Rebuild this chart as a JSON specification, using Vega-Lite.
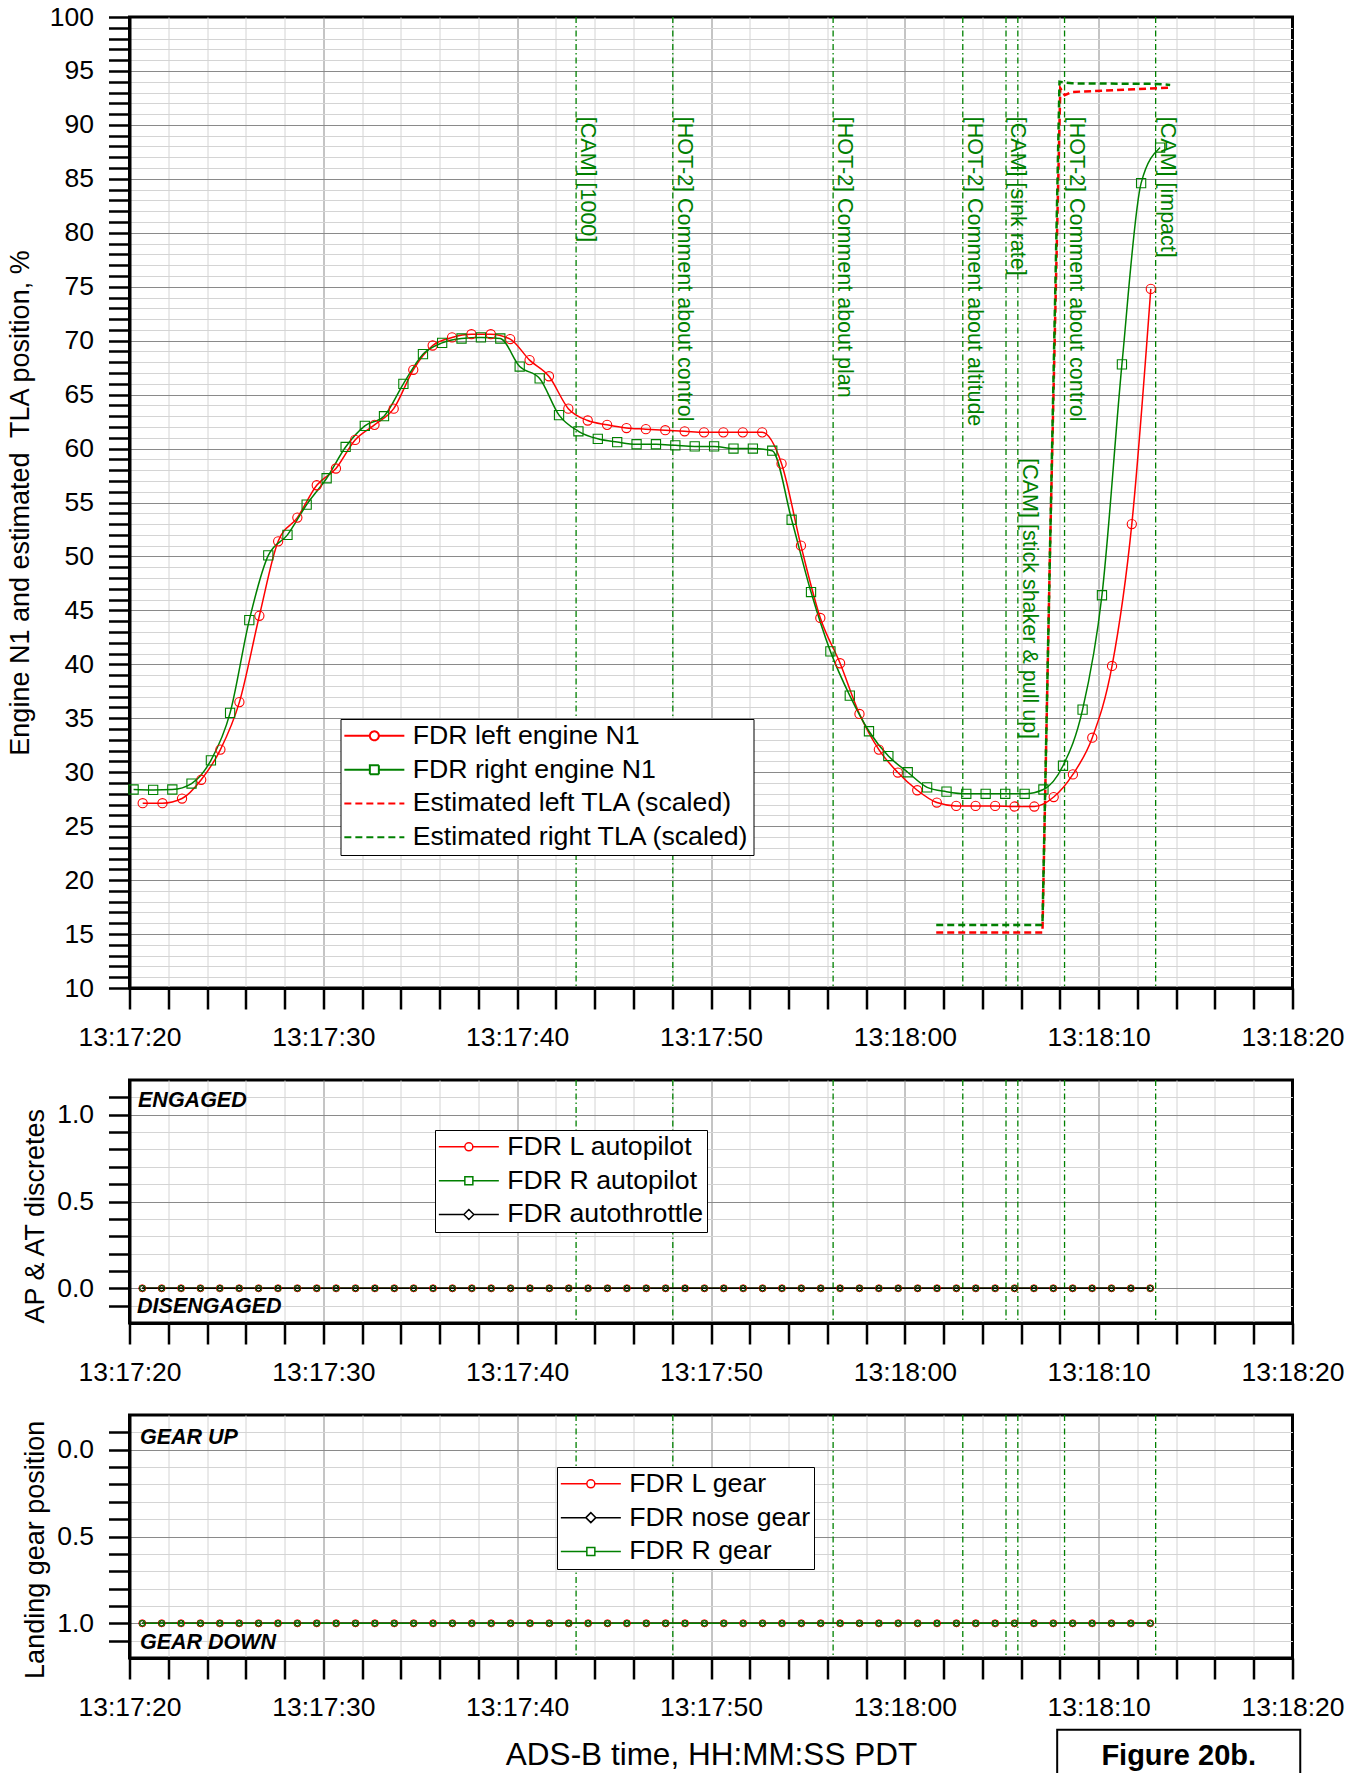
{
  "$schema": "https://vega.github.io/schema/vega-lite/v6.json",
  "autosize": {"type": "none"},
  "padding": {"left": 129.5, "top": 17, "right": 1228.5, "bottom": 1756},
  "background": "white",
  "spacing": 92,
  "bounds": "flush",
  "config": {
    "font": "Liberation Sans",
    "view": {"stroke": "black", "strokeWidth": 3},
    "axis": {
      "labelFont": "Liberation Sans", "labelFontSize": 26.5, "labelColor": "black",
      "titleFont": "Liberation Sans", "titleFontSize": 27, "titleFontWeight": "normal", "titleColor": "black",
      "domainColor": "black", "domainWidth": 3, "tickColor": "black", "tickWidth": 2.5, "tickSize": 21,
      "labelPadding": 15, "labelOverlap": false, "labelFlush": false, "labelBound": false, "grid": true, "gridWidth": 1
    },
    "legend": {"labelFont": "Liberation Sans", "labelFontSize": 26.7, "labelColor": "black", "labelLimit": 0}
  },
  "datasets": {
    "events": [
      {"t": 47863.04, "label": "[CAM] [1000]", "v": 90.75},
      {"t": 47868.03, "label": "[HOT-2] Comment about control", "v": 90.75},
      {"t": 47876.30, "label": "[HOT-2] Comment about plan", "v": 90.75},
      {"t": 47882.99, "label": "[HOT-2] Comment about altitude", "v": 90.75},
      {"t": 47885.22, "label": "[CAM] [sink rate]", "v": 90.75},
      {"t": 47885.83, "label": "[CAM] [stick shaker & pull up]", "v": 59.1},
      {"t": 47888.24, "label": "[HOT-2] Comment about control", "v": 90.75},
      {"t": 47892.94, "label": "[CAM] [impact]", "v": 90.75}
    ],
    "main": [
      {"t": 47840.68, "series": "FDR left engine N1", "v": 27.13},
      {"t": 47841.70, "series": "FDR left engine N1", "v": 27.13},
      {"t": 47842.71, "series": "FDR left engine N1", "v": 27.56},
      {"t": 47843.70, "series": "FDR left engine N1", "v": 29.3},
      {"t": 47844.69, "series": "FDR left engine N1", "v": 32.1},
      {"t": 47845.67, "series": "FDR left engine N1", "v": 36.5},
      {"t": 47846.70, "series": "FDR left engine N1", "v": 44.5},
      {"t": 47847.67, "series": "FDR left engine N1", "v": 51.4},
      {"t": 47848.66, "series": "FDR left engine N1", "v": 53.6},
      {"t": 47849.66, "series": "FDR left engine N1", "v": 56.6},
      {"t": 47850.65, "series": "FDR left engine N1", "v": 58.15},
      {"t": 47851.64, "series": "FDR left engine N1", "v": 60.8},
      {"t": 47852.64, "series": "FDR left engine N1", "v": 62.2},
      {"t": 47853.63, "series": "FDR left engine N1", "v": 63.7},
      {"t": 47854.64, "series": "FDR left engine N1", "v": 67.3},
      {"t": 47855.64, "series": "FDR left engine N1", "v": 69.55},
      {"t": 47856.64, "series": "FDR left engine N1", "v": 70.3},
      {"t": 47857.64, "series": "FDR left engine N1", "v": 70.6},
      {"t": 47858.64, "series": "FDR left engine N1", "v": 70.6},
      {"t": 47859.64, "series": "FDR left engine N1", "v": 70.15},
      {"t": 47860.64, "series": "FDR left engine N1", "v": 68.2},
      {"t": 47861.64, "series": "FDR left engine N1", "v": 66.7},
      {"t": 47862.64, "series": "FDR left engine N1", "v": 63.7},
      {"t": 47863.64, "series": "FDR left engine N1", "v": 62.6},
      {"t": 47864.64, "series": "FDR left engine N1", "v": 62.2},
      {"t": 47865.64, "series": "FDR left engine N1", "v": 61.9},
      {"t": 47866.64, "series": "FDR left engine N1", "v": 61.8},
      {"t": 47867.64, "series": "FDR left engine N1", "v": 61.7},
      {"t": 47868.64, "series": "FDR left engine N1", "v": 61.6},
      {"t": 47869.64, "series": "FDR left engine N1", "v": 61.5},
      {"t": 47870.64, "series": "FDR left engine N1", "v": 61.5},
      {"t": 47871.64, "series": "FDR left engine N1", "v": 61.5},
      {"t": 47872.64, "series": "FDR left engine N1", "v": 61.5},
      {"t": 47873.64, "series": "FDR left engine N1", "v": 58.6},
      {"t": 47874.64, "series": "FDR left engine N1", "v": 51.0},
      {"t": 47875.64, "series": "FDR left engine N1", "v": 44.3},
      {"t": 47876.66, "series": "FDR left engine N1", "v": 40.1},
      {"t": 47877.66, "series": "FDR left engine N1", "v": 35.4},
      {"t": 47878.66, "series": "FDR left engine N1", "v": 32.1},
      {"t": 47879.64, "series": "FDR left engine N1", "v": 29.97},
      {"t": 47880.64, "series": "FDR left engine N1", "v": 28.33},
      {"t": 47881.65, "series": "FDR left engine N1", "v": 27.19},
      {"t": 47882.65, "series": "FDR left engine N1", "v": 26.88},
      {"t": 47883.65, "series": "FDR left engine N1", "v": 26.88},
      {"t": 47884.66, "series": "FDR left engine N1", "v": 26.88},
      {"t": 47885.66, "series": "FDR left engine N1", "v": 26.82},
      {"t": 47886.68, "series": "FDR left engine N1", "v": 26.82},
      {"t": 47887.68, "series": "FDR left engine N1", "v": 27.7},
      {"t": 47888.67, "series": "FDR left engine N1", "v": 29.8},
      {"t": 47889.67, "series": "FDR left engine N1", "v": 33.2},
      {"t": 47890.69, "series": "FDR left engine N1", "v": 39.85},
      {"t": 47891.71, "series": "FDR left engine N1", "v": 53.0},
      {"t": 47892.69, "series": "FDR left engine N1", "v": 74.8},
      {"t": 47840.21, "series": "FDR right engine N1", "v": 28.4},
      {"t": 47841.22, "series": "FDR right engine N1", "v": 28.36},
      {"t": 47842.21, "series": "FDR right engine N1", "v": 28.4},
      {"t": 47843.20, "series": "FDR right engine N1", "v": 28.95},
      {"t": 47844.20, "series": "FDR right engine N1", "v": 31.1},
      {"t": 47845.19, "series": "FDR right engine N1", "v": 35.5},
      {"t": 47846.18, "series": "FDR right engine N1", "v": 44.1},
      {"t": 47847.16, "series": "FDR right engine N1", "v": 50.1},
      {"t": 47848.15, "series": "FDR right engine N1", "v": 52.0},
      {"t": 47849.14, "series": "FDR right engine N1", "v": 54.8},
      {"t": 47850.17, "series": "FDR right engine N1", "v": 57.25},
      {"t": 47851.15, "series": "FDR right engine N1", "v": 60.15},
      {"t": 47852.14, "series": "FDR right engine N1", "v": 62.1},
      {"t": 47853.13, "series": "FDR right engine N1", "v": 63.0},
      {"t": 47854.13, "series": "FDR right engine N1", "v": 66.0},
      {"t": 47855.14, "series": "FDR right engine N1", "v": 68.75},
      {"t": 47856.13, "series": "FDR right engine N1", "v": 69.8},
      {"t": 47857.13, "series": "FDR right engine N1", "v": 70.2},
      {"t": 47858.13, "series": "FDR right engine N1", "v": 70.3},
      {"t": 47859.13, "series": "FDR right engine N1", "v": 70.2},
      {"t": 47860.13, "series": "FDR right engine N1", "v": 67.6},
      {"t": 47861.16, "series": "FDR right engine N1", "v": 66.5},
      {"t": 47862.16, "series": "FDR right engine N1", "v": 63.1},
      {"t": 47863.16, "series": "FDR right engine N1", "v": 61.6},
      {"t": 47864.16, "series": "FDR right engine N1", "v": 60.9},
      {"t": 47865.16, "series": "FDR right engine N1", "v": 60.6},
      {"t": 47866.16, "series": "FDR right engine N1", "v": 60.4},
      {"t": 47867.16, "series": "FDR right engine N1", "v": 60.4},
      {"t": 47868.16, "series": "FDR right engine N1", "v": 60.3},
      {"t": 47869.16, "series": "FDR right engine N1", "v": 60.2},
      {"t": 47870.16, "series": "FDR right engine N1", "v": 60.2},
      {"t": 47871.16, "series": "FDR right engine N1", "v": 60.0},
      {"t": 47872.16, "series": "FDR right engine N1", "v": 60.0},
      {"t": 47873.16, "series": "FDR right engine N1", "v": 59.8},
      {"t": 47874.16, "series": "FDR right engine N1", "v": 53.4},
      {"t": 47875.16, "series": "FDR right engine N1", "v": 46.7},
      {"t": 47876.16, "series": "FDR right engine N1", "v": 41.2},
      {"t": 47877.16, "series": "FDR right engine N1", "v": 37.1},
      {"t": 47878.15, "series": "FDR right engine N1", "v": 33.8},
      {"t": 47879.15, "series": "FDR right engine N1", "v": 31.5},
      {"t": 47880.15, "series": "FDR right engine N1", "v": 30.0},
      {"t": 47881.15, "series": "FDR right engine N1", "v": 28.6},
      {"t": 47882.15, "series": "FDR right engine N1", "v": 28.2},
      {"t": 47883.17, "series": "FDR right engine N1", "v": 28.0},
      {"t": 47884.17, "series": "FDR right engine N1", "v": 28.0},
      {"t": 47885.18, "series": "FDR right engine N1", "v": 28.0},
      {"t": 47886.18, "series": "FDR right engine N1", "v": 28.0},
      {"t": 47887.15, "series": "FDR right engine N1", "v": 28.4},
      {"t": 47888.16, "series": "FDR right engine N1", "v": 30.6},
      {"t": 47889.17, "series": "FDR right engine N1", "v": 35.8},
      {"t": 47890.17, "series": "FDR right engine N1", "v": 46.4},
      {"t": 47891.20, "series": "FDR right engine N1", "v": 67.8},
      {"t": 47892.19, "series": "FDR right engine N1", "v": 84.6},
      {"t": 47893.17, "series": "FDR right engine N1", "v": 87.9},
      {"t": 47881.62, "series": "Estimated left TLA (scaled)", "v": 15.15},
      {"t": 47887.10, "series": "Estimated left TLA (scaled)", "v": 15.15},
      {"t": 47887.48, "series": "Estimated left TLA (scaled)", "v": 49.7},
      {"t": 47888.02, "series": "Estimated left TLA (scaled)", "v": 93.4},
      {"t": 47888.25, "series": "Estimated left TLA (scaled)", "v": 92.75},
      {"t": 47888.62, "series": "Estimated left TLA (scaled)", "v": 93.05},
      {"t": 47893.69, "series": "Estimated left TLA (scaled)", "v": 93.45},
      {"t": 47881.62, "series": "Estimated right TLA (scaled)", "v": 15.83},
      {"t": 47887.10, "series": "Estimated right TLA (scaled)", "v": 15.83},
      {"t": 47887.50, "series": "Estimated right TLA (scaled)", "v": 51.5},
      {"t": 47887.98, "series": "Estimated right TLA (scaled)", "v": 94.0},
      {"t": 47888.62, "series": "Estimated right TLA (scaled)", "v": 93.85},
      {"t": 47893.00, "series": "Estimated right TLA (scaled)", "v": 93.8},
      {"t": 47893.69, "series": "Estimated right TLA (scaled)", "v": 93.7}
    ],
    "discretes": [
      {"t": 47840.66, "ap_l": 0, "ap_r": 0, "at": 0, "gear_l": 1, "gear_n": 1, "gear_r": 1},
      {"t": 47841.66, "ap_l": 0, "ap_r": 0, "at": 0, "gear_l": 1, "gear_n": 1, "gear_r": 1},
      {"t": 47842.66, "ap_l": 0, "ap_r": 0, "at": 0, "gear_l": 1, "gear_n": 1, "gear_r": 1},
      {"t": 47843.66, "ap_l": 0, "ap_r": 0, "at": 0, "gear_l": 1, "gear_n": 1, "gear_r": 1},
      {"t": 47844.66, "ap_l": 0, "ap_r": 0, "at": 0, "gear_l": 1, "gear_n": 1, "gear_r": 1},
      {"t": 47845.66, "ap_l": 0, "ap_r": 0, "at": 0, "gear_l": 1, "gear_n": 1, "gear_r": 1},
      {"t": 47846.66, "ap_l": 0, "ap_r": 0, "at": 0, "gear_l": 1, "gear_n": 1, "gear_r": 1},
      {"t": 47847.66, "ap_l": 0, "ap_r": 0, "at": 0, "gear_l": 1, "gear_n": 1, "gear_r": 1},
      {"t": 47848.66, "ap_l": 0, "ap_r": 0, "at": 0, "gear_l": 1, "gear_n": 1, "gear_r": 1},
      {"t": 47849.66, "ap_l": 0, "ap_r": 0, "at": 0, "gear_l": 1, "gear_n": 1, "gear_r": 1},
      {"t": 47850.66, "ap_l": 0, "ap_r": 0, "at": 0, "gear_l": 1, "gear_n": 1, "gear_r": 1},
      {"t": 47851.66, "ap_l": 0, "ap_r": 0, "at": 0, "gear_l": 1, "gear_n": 1, "gear_r": 1},
      {"t": 47852.66, "ap_l": 0, "ap_r": 0, "at": 0, "gear_l": 1, "gear_n": 1, "gear_r": 1},
      {"t": 47853.66, "ap_l": 0, "ap_r": 0, "at": 0, "gear_l": 1, "gear_n": 1, "gear_r": 1},
      {"t": 47854.66, "ap_l": 0, "ap_r": 0, "at": 0, "gear_l": 1, "gear_n": 1, "gear_r": 1},
      {"t": 47855.66, "ap_l": 0, "ap_r": 0, "at": 0, "gear_l": 1, "gear_n": 1, "gear_r": 1},
      {"t": 47856.66, "ap_l": 0, "ap_r": 0, "at": 0, "gear_l": 1, "gear_n": 1, "gear_r": 1},
      {"t": 47857.66, "ap_l": 0, "ap_r": 0, "at": 0, "gear_l": 1, "gear_n": 1, "gear_r": 1},
      {"t": 47858.66, "ap_l": 0, "ap_r": 0, "at": 0, "gear_l": 1, "gear_n": 1, "gear_r": 1},
      {"t": 47859.66, "ap_l": 0, "ap_r": 0, "at": 0, "gear_l": 1, "gear_n": 1, "gear_r": 1},
      {"t": 47860.66, "ap_l": 0, "ap_r": 0, "at": 0, "gear_l": 1, "gear_n": 1, "gear_r": 1},
      {"t": 47861.66, "ap_l": 0, "ap_r": 0, "at": 0, "gear_l": 1, "gear_n": 1, "gear_r": 1},
      {"t": 47862.66, "ap_l": 0, "ap_r": 0, "at": 0, "gear_l": 1, "gear_n": 1, "gear_r": 1},
      {"t": 47863.66, "ap_l": 0, "ap_r": 0, "at": 0, "gear_l": 1, "gear_n": 1, "gear_r": 1},
      {"t": 47864.66, "ap_l": 0, "ap_r": 0, "at": 0, "gear_l": 1, "gear_n": 1, "gear_r": 1},
      {"t": 47865.66, "ap_l": 0, "ap_r": 0, "at": 0, "gear_l": 1, "gear_n": 1, "gear_r": 1},
      {"t": 47866.66, "ap_l": 0, "ap_r": 0, "at": 0, "gear_l": 1, "gear_n": 1, "gear_r": 1},
      {"t": 47867.66, "ap_l": 0, "ap_r": 0, "at": 0, "gear_l": 1, "gear_n": 1, "gear_r": 1},
      {"t": 47868.66, "ap_l": 0, "ap_r": 0, "at": 0, "gear_l": 1, "gear_n": 1, "gear_r": 1},
      {"t": 47869.66, "ap_l": 0, "ap_r": 0, "at": 0, "gear_l": 1, "gear_n": 1, "gear_r": 1},
      {"t": 47870.66, "ap_l": 0, "ap_r": 0, "at": 0, "gear_l": 1, "gear_n": 1, "gear_r": 1},
      {"t": 47871.66, "ap_l": 0, "ap_r": 0, "at": 0, "gear_l": 1, "gear_n": 1, "gear_r": 1},
      {"t": 47872.66, "ap_l": 0, "ap_r": 0, "at": 0, "gear_l": 1, "gear_n": 1, "gear_r": 1},
      {"t": 47873.66, "ap_l": 0, "ap_r": 0, "at": 0, "gear_l": 1, "gear_n": 1, "gear_r": 1},
      {"t": 47874.66, "ap_l": 0, "ap_r": 0, "at": 0, "gear_l": 1, "gear_n": 1, "gear_r": 1},
      {"t": 47875.66, "ap_l": 0, "ap_r": 0, "at": 0, "gear_l": 1, "gear_n": 1, "gear_r": 1},
      {"t": 47876.66, "ap_l": 0, "ap_r": 0, "at": 0, "gear_l": 1, "gear_n": 1, "gear_r": 1},
      {"t": 47877.66, "ap_l": 0, "ap_r": 0, "at": 0, "gear_l": 1, "gear_n": 1, "gear_r": 1},
      {"t": 47878.66, "ap_l": 0, "ap_r": 0, "at": 0, "gear_l": 1, "gear_n": 1, "gear_r": 1},
      {"t": 47879.66, "ap_l": 0, "ap_r": 0, "at": 0, "gear_l": 1, "gear_n": 1, "gear_r": 1},
      {"t": 47880.66, "ap_l": 0, "ap_r": 0, "at": 0, "gear_l": 1, "gear_n": 1, "gear_r": 1},
      {"t": 47881.66, "ap_l": 0, "ap_r": 0, "at": 0, "gear_l": 1, "gear_n": 1, "gear_r": 1},
      {"t": 47882.66, "ap_l": 0, "ap_r": 0, "at": 0, "gear_l": 1, "gear_n": 1, "gear_r": 1},
      {"t": 47883.66, "ap_l": 0, "ap_r": 0, "at": 0, "gear_l": 1, "gear_n": 1, "gear_r": 1},
      {"t": 47884.66, "ap_l": 0, "ap_r": 0, "at": 0, "gear_l": 1, "gear_n": 1, "gear_r": 1},
      {"t": 47885.66, "ap_l": 0, "ap_r": 0, "at": 0, "gear_l": 1, "gear_n": 1, "gear_r": 1},
      {"t": 47886.66, "ap_l": 0, "ap_r": 0, "at": 0, "gear_l": 1, "gear_n": 1, "gear_r": 1},
      {"t": 47887.66, "ap_l": 0, "ap_r": 0, "at": 0, "gear_l": 1, "gear_n": 1, "gear_r": 1},
      {"t": 47888.66, "ap_l": 0, "ap_r": 0, "at": 0, "gear_l": 1, "gear_n": 1, "gear_r": 1},
      {"t": 47889.66, "ap_l": 0, "ap_r": 0, "at": 0, "gear_l": 1, "gear_n": 1, "gear_r": 1},
      {"t": 47890.66, "ap_l": 0, "ap_r": 0, "at": 0, "gear_l": 1, "gear_n": 1, "gear_r": 1},
      {"t": 47891.66, "ap_l": 0, "ap_r": 0, "at": 0, "gear_l": 1, "gear_n": 1, "gear_r": 1},
      {"t": 47892.66, "ap_l": 0, "ap_r": 0, "at": 0, "gear_l": 1, "gear_n": 1, "gear_r": 1}
    ]
  },
  "resolve": {
    "scale": {"color": "independent"},
    "legend": {"color": "independent"}
  },
  "vconcat": [
    {
      "width": 1163,
      "height": 971,
      "layer": [
        {
          "data": {"name": "events"},
          "mark": {"type": "rule", "color": "#008000", "strokeWidth": 1.3, "strokeDash": [6, 3, 1.5, 3]},
          "encoding": {
            "x": {"field": "t", "type": "quantitative", "scale": {"domain": [47840, 47900], "nice": false, "zero": false}}
          }
        },
        {
          "data": {"name": "events"},
          "mark": {"type": "text", "angle": 90, "align": "left", "baseline": "alphabetic", "dy": -5, "fontSize": 21.5, "font": "Liberation Sans", "color": "#008000"},
          "encoding": {
            "x": {"field": "t", "type": "quantitative", "scale": {"domain": [47840, 47900], "nice": false, "zero": false}},
            "y": {"field": "v", "type": "quantitative", "scale": {"domain": [10, 100], "nice": false, "zero": false}},
            "text": {"field": "label", "type": "nominal"}
          }
        },
        {
          "data": {"name": "main"},
          "transform": [{"filter": "indexof(datum.series, 'TLA') >= 0"}],
          "mark": {"type": "line", "strokeWidth": 2.5, "strokeDash": [7, 4]},
          "encoding": {
            "x": {"field": "t", "type": "quantitative", "scale": {"domain": [47840, 47900], "nice": false, "zero": false}},
            "y": {"field": "v", "type": "quantitative", "scale": {"domain": [10, 100], "nice": false, "zero": false}},
            "color": {"field": "series", "type": "nominal",
              "scale": {"domain": ["FDR left engine N1", "FDR right engine N1", "Estimated left TLA (scaled)", "Estimated right TLA (scaled)"], "range": ["#ff0000", "#008000", "#ff0000", "#008000"]}}
          }
        },
        {
          "data": {"name": "main"},
          "transform": [{"filter": "indexof(datum.series, 'N1') >= 0"}],
          "mark": {"type": "line", "strokeWidth": 1.5, "interpolate": "monotone"},
          "encoding": {
            "x": {"field": "t", "type": "quantitative", "scale": {"domain": [47840, 47900], "nice": false, "zero": false},
              "axis": {
                "title": null, "labelOverlap": false, "tickCount": 500,
                "values": [47840, 47842, 47844, 47846, 47848, 47850, 47852, 47854, 47856, 47858, 47860, 47862, 47864, 47866, 47868, 47870, 47872, 47874, 47876, 47878, 47880, 47882, 47884, 47886, 47888, 47890, 47892, 47894, 47896, 47898, 47900],
                "labelExpr": "datum.value % 10 === 0 ? utcFormat(datum.value * 1000, '%H:%M:%S') : ''",
                "gridColor": {"condition": {"test": "datum.value % 10 === 0", "value": "#8a8a8a"}, "value": "#d4d4d4"},
                "gridOpacity": {"condition": {"test": "datum.value == 47840 || datum.value == 47900", "value": 0}, "value": 1},
                "encode": {"ticks": {"update": {"y2": {"signal": "datum.value % 10 === 0 ? 21 : 11"}}}}
              }},
            "y": {"field": "v", "type": "quantitative", "scale": {"domain": [10, 100], "nice": false, "zero": false},
              "axis": {
                "title": "Engine N1 and estimated\u00a0 TLA position, %", "labelOverlap": false, "tickCount": 500,
                "format": "d",
                "values": [10, 11, 12, 13, 14, 15, 16, 17, 18, 19, 20, 21, 22, 23, 24, 25, 26, 27, 28, 29, 30, 31, 32, 33, 34, 35, 36, 37, 38, 39, 40, 41, 42, 43, 44, 45, 46, 47, 48, 49, 50, 51, 52, 53, 54, 55, 56, 57, 58, 59, 60, 61, 62, 63, 64, 65, 66, 67, 68, 69, 70, 71, 72, 73, 74, 75, 76, 77, 78, 79, 80, 81, 82, 83, 84, 85, 86, 87, 88, 89, 90, 91, 92, 93, 94, 95, 96, 97, 98, 99, 100],
                "labelExpr": "datum.value % 5 === 0 ? datum.label : ''",
                "gridColor": {"condition": {"test": "datum.value % 5 === 0", "value": "#8a8a8a"}, "value": "#d4d4d4"},
                "gridOpacity": {"condition": {"test": "datum.value == 10 || datum.value == 100", "value": 0}, "value": 1},
                "encode": {"ticks": {"update": {"x2": {"signal": "datum.value % 5 === 0 ? -21 : -11"}}}},
                "titleX": -109, "titleY": 485.5, "titleAngle": -90, "titleAlign": "center", "titleBaseline": "middle"
              }},
            "color": {"field": "series", "type": "nominal",
              "scale": {"domain": ["FDR left engine N1", "FDR right engine N1", "Estimated left TLA (scaled)", "Estimated right TLA (scaled)"], "range": ["#ff0000", "#008000", "#ff0000", "#008000"]},
              "legend": {
                "orient": "none", "legendX": 211, "legendY": 702, "title": null,
                "symbolSize": 400, "symbolOffset": 17, "labelOffset": 25, "padding": 3.5, "rowPadding": 5.8,
                "symbolStrokeWidth": 2,
                "fillColor": "white", "strokeColor": "black",
                "encode": {
                  "symbols": {"update": {
                    "shape": {"signal": "datum.value == 'FDR left engine N1' ? 'M-3,0H-0.45M0.45,0H3M-0.45,0A0.45,0.45 0 1,1 0.45,0A0.45,0.45 0 1,1 -0.45,0' : datum.value == 'FDR right engine N1' ? 'M-3,0H-0.45M0.45,0H3M-0.45,-0.45H0.45V0.45H-0.45Z' : 'M-3,0H3'"},
                    "stroke": {"signal": "indexof(datum.value, 'left') >= 0 ? '#ff0000' : '#008000'"},
                    "strokeDash": {"signal": "indexof(datum.value, 'TLA') >= 0 ? [7, 4] : [1, 0]"},
                    "fill": {"value": "transparent"}
                  }}
                }
              }}
          }
        },
        {
          "data": {"name": "main"},
          "transform": [{"filter": "indexof(datum.series, 'N1') >= 0"}],
          "mark": {"type": "point", "filled": false, "size": 85, "strokeWidth": 1.1, "opacity": 1},
          "encoding": {
            "x": {"field": "t", "type": "quantitative", "scale": {"domain": [47840, 47900], "nice": false, "zero": false}},
            "y": {"field": "v", "type": "quantitative", "scale": {"domain": [10, 100], "nice": false, "zero": false}},
            "color": {"field": "series", "type": "nominal",
              "scale": {"domain": ["FDR left engine N1", "FDR right engine N1", "Estimated left TLA (scaled)", "Estimated right TLA (scaled)"], "range": ["#ff0000", "#008000", "#ff0000", "#008000"]}},
            "shape": {"condition": {"test": "datum.series == 'FDR left engine N1'", "value": "circle"}, "value": "square"}
          }
        }
      ]
    },
    {
      "width": 1163,
      "height": 243,
      "layer": [
        {
          "data": {"name": "events"},
          "mark": {"type": "rule", "color": "#008000", "strokeWidth": 1.3, "strokeDash": [6, 3, 1.5, 3]},
          "encoding": {
            "x": {"field": "t", "type": "quantitative", "scale": {"domain": [47840, 47900], "nice": false, "zero": false}}
          }
        },
        {
          "data": {"name": "discretes"},
          "transform": [{"fold": ["ap_l", "ap_r", "at"], "as": ["series", "v"]}],
          "mark": {"type": "line", "strokeWidth": 1.5},
          "encoding": {
            "x": {"field": "t", "type": "quantitative", "scale": {"domain": [47840, 47900], "nice": false, "zero": false},
              "axis": {
                "title": null, "labelOverlap": false, "tickCount": 500,
                "values": [47840, 47842, 47844, 47846, 47848, 47850, 47852, 47854, 47856, 47858, 47860, 47862, 47864, 47866, 47868, 47870, 47872, 47874, 47876, 47878, 47880, 47882, 47884, 47886, 47888, 47890, 47892, 47894, 47896, 47898, 47900],
                "labelExpr": "datum.value % 10 === 0 ? utcFormat(datum.value * 1000, '%H:%M:%S') : ''",
                "gridColor": {"condition": {"test": "datum.value % 10 === 0", "value": "#8a8a8a"}, "value": "#d4d4d4"},
                "gridOpacity": {"condition": {"test": "datum.value == 47840 || datum.value == 47900", "value": 0}, "value": 1},
                "encode": {"ticks": {"update": {"y2": {"signal": "datum.value % 10 === 0 ? 21 : 11"}}}}
              }},
            "y": {"field": "v", "type": "quantitative", "scale": {"domain": [-0.2, 1.2], "nice": false, "zero": false},
              "axis": {
                "title": "AP & AT discretes", "labelOverlap": false, "tickCount": 500,
                "values": [-0.1, 0, 0.1, 0.2, 0.3, 0.4, 0.5, 0.6, 0.7, 0.8, 0.9, 1, 1.1],
                "format": ".1f",
                "labelExpr": "abs(datum.value * 2 - round(datum.value * 2)) < 0.001 ? datum.label : ''",
                "gridColor": {"condition": {"test": "abs(datum.value * 2 - round(datum.value * 2)) < 0.001", "value": "#8a8a8a"}, "value": "#d4d4d4"},
                "encode": {"ticks": {"update": {"x2": {"signal": "abs(datum.value * 2 - round(datum.value * 2)) < 0.001 ? -21 : -11"}}}},
                "titleX": -94, "titleY": 135.7, "titleAngle": -90, "titleAlign": "center", "titleBaseline": "middle"
              }},
            "color": {"field": "series", "type": "nominal",
              "scale": {"domain": ["ap_l", "ap_r", "at"], "range": ["#ff0000", "#008000", "#000000"]},
              "legend": {
                "orient": "none", "legendX": 305.5, "legendY": 50, "title": null,
                "labelExpr": "datum.value == 'ap_l' ? 'FDR L autopilot' : datum.value == 'ap_r' ? 'FDR R autopilot' : 'FDR autothrottle'",
                "symbolSize": 400, "symbolOffset": 17, "labelOffset": 25, "padding": 3.5, "rowPadding": 5.8,
                "symbolStrokeWidth": 1.5,
                "fillColor": "white", "strokeColor": "black",
                "encode": {
                  "symbols": {"update": {
                    "shape": {"signal": "datum.value == 'ap_l' ? 'M-3,0H-0.4M0.4,0H3M-0.4,0A0.4,0.4 0 1,1 0.4,0A0.4,0.4 0 1,1 -0.4,0' : datum.value == 'ap_r' ? 'M-3,0H-0.4M0.4,0H3M-0.4,-0.4H0.4V0.4H-0.4Z' : 'M-3,0H-0.5M0.5,0H3M-0.5,0L0,-0.5L0.5,0L0,0.5Z'"},
                    "stroke": {"signal": "datum.value == 'ap_l' ? '#ff0000' : datum.value == 'ap_r' ? '#008000' : '#000000'"},
                    "fill": {"value": "transparent"}
                  }}
                }
              }}
          }
        },
        {
          "data": {"name": "discretes"},
          "transform": [{"fold": ["ap_l", "ap_r", "at"], "as": ["series", "v"]}],
          "mark": {"type": "point", "filled": false, "strokeWidth": 1, "opacity": 1},
          "encoding": {
            "x": {"field": "t", "type": "quantitative", "scale": {"domain": [47840, 47900], "nice": false, "zero": false}},
            "y": {"field": "v", "type": "quantitative", "scale": {"domain": [-0.2, 1.2], "nice": false, "zero": false}},
            "color": {"field": "series", "type": "nominal", "scale": {"domain": ["ap_l", "ap_r", "at"], "range": ["#ff0000", "#008000", "#000000"]}},
            "shape": {"condition": [{"test": "datum.series == 'ap_l'", "value": "circle"}, {"test": "datum.series == 'ap_r'", "value": "square"}], "value": "diamond"},
            "size": {"condition": [{"test": "datum.series == 'ap_l'", "value": 50}, {"test": "datum.series == 'ap_r'", "value": 25}], "value": 40}
          }
        },
        {
          "data": {"values": [
            {"t": 47840.44, "v": 1.078, "note": "ENGAGED"},
            {"t": 47840.39, "v": -0.109, "note": "DISENGAGED"}
          ]},
          "mark": {"type": "text", "align": "left", "baseline": "middle", "fontSize": 21.5, "fontWeight": "bold", "fontStyle": "italic", "font": "Liberation Sans", "color": "black"},
          "encoding": {
            "x": {"field": "t", "type": "quantitative", "scale": {"domain": [47840, 47900], "nice": false, "zero": false}},
            "y": {"field": "v", "type": "quantitative", "scale": {"domain": [-0.2, 1.2], "nice": false, "zero": false}},
            "text": {"field": "note", "type": "nominal"}
          }
        }
      ]
    },
    {
      "width": 1163,
      "height": 243,
      "layer": [
        {
          "data": {"name": "events"},
          "mark": {"type": "rule", "color": "#008000", "strokeWidth": 1.3, "strokeDash": [6, 3, 1.5, 3]},
          "encoding": {
            "x": {"field": "t", "type": "quantitative", "scale": {"domain": [47840, 47900], "nice": false, "zero": false}}
          }
        },
        {
          "data": {"name": "discretes"},
          "transform": [{"fold": ["gear_l", "gear_n", "gear_r"], "as": ["series", "v"]}],
          "mark": {"type": "line", "strokeWidth": 1.5},
          "encoding": {
            "x": {"field": "t", "type": "quantitative", "scale": {"domain": [47840, 47900], "nice": false, "zero": false},
              "axis": {
                "title": "ADS-B time, HH:MM:SS PDT", "labelOverlap": false, "tickCount": 500,
                "titleFontSize": 31.5, "titleY": 106, "titleBaseline": "alphabetic",
                "values": [47840, 47842, 47844, 47846, 47848, 47850, 47852, 47854, 47856, 47858, 47860, 47862, 47864, 47866, 47868, 47870, 47872, 47874, 47876, 47878, 47880, 47882, 47884, 47886, 47888, 47890, 47892, 47894, 47896, 47898, 47900],
                "labelExpr": "datum.value % 10 === 0 ? utcFormat(datum.value * 1000, '%H:%M:%S') : ''",
                "gridColor": {"condition": {"test": "datum.value % 10 === 0", "value": "#8a8a8a"}, "value": "#d4d4d4"},
                "gridOpacity": {"condition": {"test": "datum.value == 47840 || datum.value == 47900", "value": 0}, "value": 1},
                "encode": {"ticks": {"update": {"y2": {"signal": "datum.value % 10 === 0 ? 21 : 11"}}}}
              }},
            "y": {"field": "v", "type": "quantitative", "scale": {"domain": [-0.2, 1.2], "nice": false, "zero": false, "reverse": true},
              "axis": {
                "title": "Landing gear position", "labelOverlap": false, "tickCount": 500,
                "values": [-0.1, 0, 0.1, 0.2, 0.3, 0.4, 0.5, 0.6, 0.7, 0.8, 0.9, 1, 1.1],
                "format": ".1f",
                "labelExpr": "abs(datum.value * 2 - round(datum.value * 2)) < 0.001 ? datum.label : ''",
                "gridColor": {"condition": {"test": "abs(datum.value * 2 - round(datum.value * 2)) < 0.001", "value": "#8a8a8a"}, "value": "#d4d4d4"},
                "encode": {"ticks": {"update": {"x2": {"signal": "abs(datum.value * 2 - round(datum.value * 2)) < 0.001 ? -21 : -11"}}}},
                "titleX": -94, "titleY": 134.3, "titleAngle": -90, "titleAlign": "center", "titleBaseline": "middle"
              }},
            "color": {"field": "series", "type": "nominal",
              "scale": {"domain": ["gear_l", "gear_n", "gear_r"], "range": ["#ff0000", "#000000", "#008000"]},
              "legend": {
                "orient": "none", "legendX": 427.5, "legendY": 52, "title": null,
                "labelExpr": "datum.value == 'gear_l' ? 'FDR L gear' : datum.value == 'gear_n' ? 'FDR nose gear' : 'FDR R gear'",
                "symbolSize": 400, "symbolOffset": 17, "labelOffset": 25, "padding": 3.5, "rowPadding": 5.8,
                "symbolStrokeWidth": 1.5,
                "fillColor": "white", "strokeColor": "black",
                "encode": {
                  "symbols": {"update": {
                    "shape": {"signal": "datum.value == 'gear_l' ? 'M-3,0H-0.4M0.4,0H3M-0.4,0A0.4,0.4 0 1,1 0.4,0A0.4,0.4 0 1,1 -0.4,0' : datum.value == 'gear_r' ? 'M-3,0H-0.4M0.4,0H3M-0.4,-0.4H0.4V0.4H-0.4Z' : 'M-3,0H-0.5M0.5,0H3M-0.5,0L0,-0.5L0.5,0L0,0.5Z'"},
                    "stroke": {"signal": "datum.value == 'gear_l' ? '#ff0000' : datum.value == 'gear_r' ? '#008000' : '#000000'"},
                    "fill": {"value": "transparent"}
                  }}
                }
              }}
          }
        },
        {
          "data": {"name": "discretes"},
          "transform": [{"fold": ["gear_l", "gear_n", "gear_r"], "as": ["series", "v"]}],
          "mark": {"type": "point", "filled": false, "strokeWidth": 1, "opacity": 1},
          "encoding": {
            "x": {"field": "t", "type": "quantitative", "scale": {"domain": [47840, 47900], "nice": false, "zero": false}},
            "y": {"field": "v", "type": "quantitative", "scale": {"domain": [-0.2, 1.2], "nice": false, "zero": false, "reverse": true}},
            "color": {"field": "series", "type": "nominal", "scale": {"domain": ["gear_l", "gear_n", "gear_r"], "range": ["#ff0000", "#000000", "#008000"]}},
            "shape": {"condition": [{"test": "datum.series == 'gear_l'", "value": "circle"}, {"test": "datum.series == 'gear_n'", "value": "diamond"}], "value": "square"},
            "size": {"condition": [{"test": "datum.series == 'gear_l'", "value": 50}, {"test": "datum.series == 'gear_n'", "value": 40}], "value": 25}
          }
        },
        {
          "data": {"values": [
            {"t": 47840.54, "v": -0.07, "note": "GEAR UP"},
            {"t": 47840.54, "v": 1.114, "note": "GEAR DOWN"}
          ]},
          "mark": {"type": "text", "align": "left", "baseline": "middle", "fontSize": 21.5, "fontWeight": "bold", "fontStyle": "italic", "font": "Liberation Sans", "color": "black"},
          "encoding": {
            "x": {"field": "t", "type": "quantitative", "scale": {"domain": [47840, 47900], "nice": false, "zero": false}},
            "y": {"field": "v", "type": "quantitative", "scale": {"domain": [-0.2, 1.2], "nice": false, "zero": false, "reverse": true}},
            "text": {"field": "note", "type": "nominal"}
          }
        },
        {
          "data": {"values": [{"t1": 47887.86, "t2": 47900.40, "v1": 1.614, "v2": 1.95}]},
          "mark": {"type": "rect", "fill": "white", "stroke": "black", "strokeWidth": 2},
          "encoding": {
            "x": {"field": "t1", "type": "quantitative", "scale": {"domain": [47840, 47900], "nice": false, "zero": false}},
            "x2": {"field": "t2"},
            "y": {"field": "v1", "type": "quantitative", "scale": {"domain": [-0.2, 1.2], "nice": false, "zero": false, "reverse": true}},
            "y2": {"field": "v2"}
          }
        },
        {
          "data": {"values": [{"t": 47894.13, "v": 1.817, "note": "Figure 20b."}]},
          "mark": {"type": "text", "align": "center", "baseline": "alphabetic", "fontSize": 29, "fontWeight": "bold", "font": "Liberation Sans", "color": "black"},
          "encoding": {
            "x": {"field": "t", "type": "quantitative", "scale": {"domain": [47840, 47900], "nice": false, "zero": false}},
            "y": {"field": "v", "type": "quantitative", "scale": {"domain": [-0.2, 1.2], "nice": false, "zero": false, "reverse": true}},
            "text": {"field": "note", "type": "nominal"}
          }
        }
      ]
    }
  ]
}
